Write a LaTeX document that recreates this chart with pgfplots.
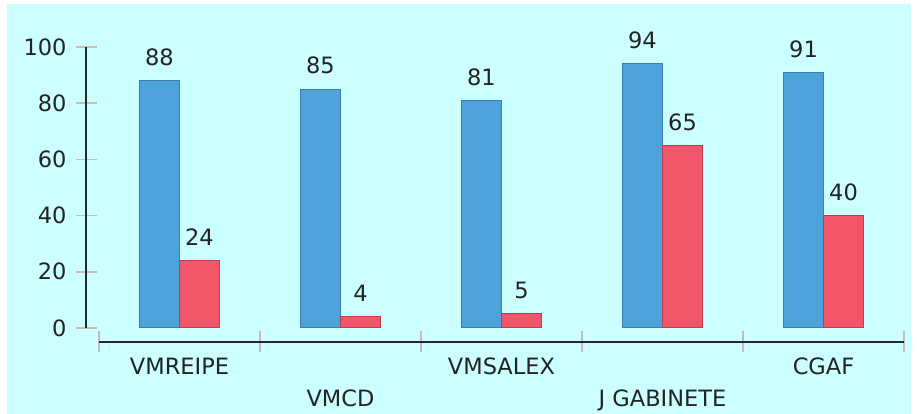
\documentclass[border=0pt]{standalone}
\usepackage{pgfplots}
\pgfplotsset{compat=1.18}
\usepackage{fontspec}
\setmainfont{DejaVu Sans}

\definecolor{bgcyan}{RGB}{204,255,255}
\definecolor{barblue}{RGB}{79,163,219}
\definecolor{edgeblue}{RGB}{60,125,175}
\definecolor{barred}{RGB}{242,86,106}
\definecolor{edgered}{RGB}{190,60,80}
\definecolor{tickcol}{RGB}{205,185,185}
\definecolor{axiscol}{RGB}{40,40,40}
\definecolor{textcol}{RGB}{35,35,35}

\begin{document}
\begin{tikzpicture}
  \fill[white] (0,0) rectangle (917pt,414pt);
  \useasboundingbox (0,0) rectangle (917pt,414pt);
  \fill[bgcyan] (7pt,0) rectangle (911pt,410pt);
  \begin{axis}[
      at={(99pt,72pt)}, anchor=south west,
      scale only axis,
      width=805pt, height=295pt,
      xmin=-0.5, xmax=4.5,
      ymin=-5, ymax=100,
      clip=false,
      axis line style={draw=none},
      tick style={draw=none},
      major tick length=0pt,
      ybar=0pt, bar width=40pt,
      xtick={0,1,2,3,4},
      xticklabels={{\strut VMREIPE},{\strut\\VMCD},{\strut VMSALEX},{\strut\\J GABINETE},{\strut CGAF}},
      ytick={0,20,40,60,80,100},
      ytick pos=left, xtick pos=bottom,
      /pgf/number format/assume math mode=true,
      every tick label/.append style={font=\fontsize{22.5}{32}\selectfont, text=textcol},
      xticklabel style={align=center, yshift=-7pt},
      yticklabel style={xshift=-29pt},
      nodes near coords,
      every node near coord/.append style={font=\fontsize{22.5}{32}\selectfont, text=textcol, yshift=11pt},
    ]
    \addplot[fill=barblue, draw=edgeblue, line width=1pt] coordinates {
      (0,88) (1,85) (2,81) (3,94) (4,91)
    };
    \addplot[fill=barred, draw=edgered, line width=1pt] coordinates {
      (0,24) (1,4) (2,5) (3,65) (4,40)
    };
    % y axis ticks and line
    \pgfplotsinvokeforeach{0,20,40,60,80,100}{
      \draw[tickcol, line width=1.5pt] ([xshift=-23pt]axis cs:-0.5,#1) -- ([xshift=-2pt]axis cs:-0.5,#1);
    }
    \draw[axiscol, line width=2.2pt] ([xshift=-13pt]axis cs:-0.5,0) -- ([xshift=-13pt]axis cs:-0.5,100);
    % x axis ticks and line
    \pgfplotsinvokeforeach{-0.5,0.5,1.5,2.5,3.5,4.5}{
      \draw[tickcol, line width=1.5pt] ([yshift=-10.5pt]axis cs:#1,-5) -- ([yshift=10.5pt]axis cs:#1,-5);
    }
    \draw[axiscol, line width=2.2pt] (axis cs:-0.5,-5) -- (axis cs:4.5,-5);
  \end{axis}
\end{tikzpicture}
\end{document}
